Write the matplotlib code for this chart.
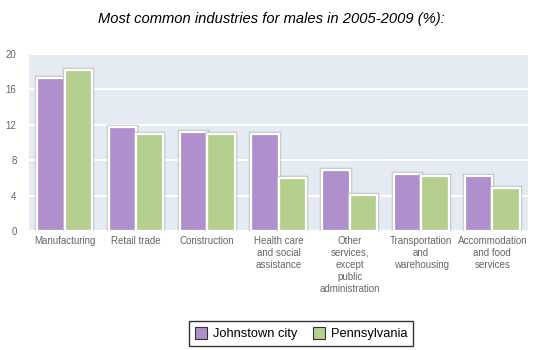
import matplotlib.pyplot as plt
import matplotlib.patheffects as pe
import numpy as np

categories = ["Manufacturing", "Retail trade", "Construction",
              "Health care\nand social\nassistance",
              "Other\nservices,\nexcept\npublic\nadministration",
              "Transportation\nand\nwarehousing",
              "Accommodation\nand food\nservices"]
johnstown = [17.3, 11.8, 11.2, 10.9, 6.9, 6.4, 6.2]
pennsylvania = [18.2, 10.9, 11.0, 6.0, 4.1, 6.2, 4.8]
yticks = [0, 4, 8, 12, 16, 20]

plt.rcParams['font.family'] = ['Liberation Sans', 'DejaVu Sans']

fig = plt.figure(figsize=(5.48, 3.5), dpi=100)
ax = fig.add_axes([0.053, 0.34, 0.9105, 0.506])
ax.set_facecolor('#E5EBF3')

x = np.arange(len(categories))
w = 0.385
# soft grey halo behind each bar, then the white-edged bar itself
shadow = [pe.Stroke(linewidth=3.2, foreground='#B0B0B0', alpha=0.7),
          pe.Stroke(linewidth=1.6, foreground='white'), pe.Normal()]
b1 = ax.bar(x - w / 2, johnstown, w, color='#AF90CC', edgecolor='white', linewidth=1.6,
            label='Johnstown city', zorder=3)
b2 = ax.bar(x + w / 2, pennsylvania, w, color='#B5CF8F', edgecolor='white', linewidth=1.6,
            label='Pennsylvania', zorder=3)
for b in list(b1) + list(b2):
    b.set_path_effects(shadow)

ax.set_xlim(-0.5, len(categories) - 0.5)
ax.set_ylim(0, 20)
ax.set_yticks(yticks)
ax.yaxis.grid(True, color='white', linewidth=1.5, zorder=1)
ax.set_axisbelow(True)
for s in ax.spines.values():
    s.set_visible(False)
ax.tick_params(length=0, labelsize=7, colors='#666666')
ax.tick_params(axis='y', pad=9)
ax.set_xticks(x)
ax.set_xticklabels(categories, linespacing=1.25, va='top')

fig.text(0.495, 0.945, "Most common industries for males in 2005-2009 (%):",
         ha='center', va='center', fontsize=10.6, style='italic')

handles = [b1, b2]
leg = fig.legend(handles=handles, labels=['Johnstown city', 'Pennsylvania'],
                 loc='center', bbox_to_anchor=(0.549, 0.047), ncol=2, frameon=True,
                 fancybox=False, edgecolor='black', fontsize=9.3, handlelength=1.0,
                 handleheight=1.0, columnspacing=1.2, handletextpad=0.4,
                 borderpad=0.45)
leg.get_frame().set_linewidth(1)
for h in leg.legend_handles:
    h.set_edgecolor('#333333')
    h.set_linewidth(0.8)
    h.set_path_effects([])

fig.savefig('out.png', dpi=100)
